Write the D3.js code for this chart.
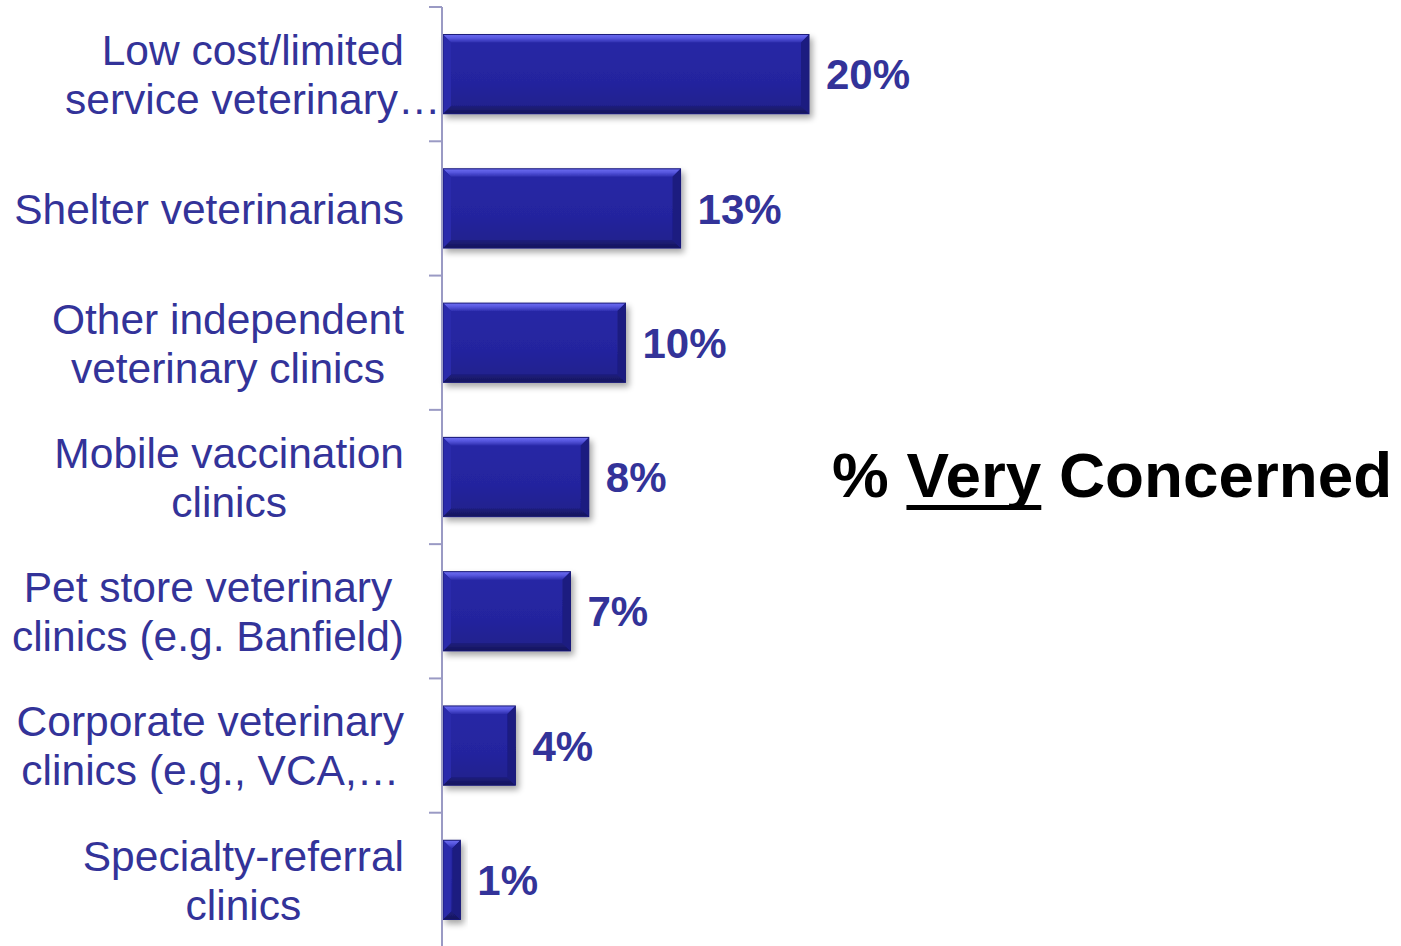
<!DOCTYPE html>
<html>
<head>
<meta charset="utf-8">
<script src="https://cdn.jsdelivr.net/npm/d3@7/dist/d3.min.js"></script>
<style>
  html, body { margin: 0; padding: 0; background: #ffffff; }
  svg { display: block; }
</style>
</head>
<body>
<svg id="chart" width="1401" height="946"></svg>
<script>
// Care providers and the share of respondents "very concerned" about each
const categories = [
  "Low cost/limited|service veterinary…",
  "Shelter veterinarians",
  "Other independent|veterinary clinics",
  "Mobile vaccination|clinics",
  "Pet store veterinary|clinics (e.g. Banfield)",
  "Corporate veterinary|clinics (e.g., VCA,…",
  "Specialty-referral|clinics"
];
const values = [20, 13, 10, 8, 7, 4, 1];
const valueLabels = ["20%", "13%", "10%", "8%", "7%", "4%", "1%"];
const titleParts = ["% ", "Very", " Concerned"];

const svg = d3.select("#chart");
const FONT = "'Liberation Sans', Arial, Helvetica, sans-serif";
const TEXT_BLUE = "#333399";

const axisX = 442;
const x = d3.scaleLinear().domain([0, 20]).range([axisX, 809]);
const y = d3.scaleBand().domain(categories).range([7, 947]).paddingInner(0.41).paddingOuter(0.205);
const yTicks = d3.scaleBand().domain(categories).range([7, 947]);

// Gradients and shadow for the bevelled bars
const defs = svg.append("defs");
const topGrad = defs.append("linearGradient").attr("id", "bevelTop").attr("x1", 0).attr("y1", 0).attr("x2", 0).attr("y2", 1);
topGrad.append("stop").attr("offset", "0%").attr("stop-color", "#6e6ef2");
topGrad.append("stop").attr("offset", "45%").attr("stop-color", "#5656de");
topGrad.append("stop").attr("offset", "100%").attr("stop-color", "#2e2eae");
const faceGrad = defs.append("linearGradient").attr("id", "face").attr("x1", 0).attr("y1", 0).attr("x2", 0).attr("y2", 1);
faceGrad.append("stop").attr("offset", "0%").attr("stop-color", "#2828a6");
faceGrad.append("stop").attr("offset", "60%").attr("stop-color", "#24249e");
faceGrad.append("stop").attr("offset", "100%").attr("stop-color", "#1f1f8a");
const botGrad = defs.append("linearGradient").attr("id", "bevelBot").attr("x1", 0).attr("y1", 0).attr("x2", 0).attr("y2", 1);
botGrad.append("stop").attr("offset", "0%").attr("stop-color", "#1e1e7e");
botGrad.append("stop").attr("offset", "100%").attr("stop-color", "#15155a");
const shadow = defs.append("filter").attr("id", "shadow").attr("x", "-20%").attr("y", "-20%").attr("width", "160%").attr("height", "160%");
shadow.append("feGaussianBlur").attr("in", "SourceAlpha").attr("stdDeviation", 3).attr("result", "blur");
shadow.append("feOffset").attr("in", "blur").attr("dx", 3).attr("dy", 4).attr("result", "off");
shadow.append("feComponentTransfer").attr("in", "off").attr("result", "soft")
  .append("feFuncA").attr("type", "linear").attr("slope", 0.35);
const merge = shadow.append("feMerge");
merge.append("feMergeNode").attr("in", "soft");
merge.append("feMergeNode").attr("in", "SourceGraphic");

// Bars
const bars = svg.append("g").selectAll("g.bar")
  .data(categories.map((c, i) => ({ c, v: values[i] })))
  .join("g").attr("class", "bar").attr("filter", "url(#shadow)");

bars.each(function (d) {
  const g = d3.select(this);
  const x0 = x(0) + 1, x1 = x(d.v);
  const y0 = y(d.c), y1 = y0 + y.bandwidth();
  const b = Math.min(8, (x1 - x0) / 2);
  g.append("rect").attr("x", x0).attr("y", y0).attr("width", x1 - x0).attr("height", y1 - y0)
    .attr("fill", "url(#face)");
  // top bevel
  g.append("polygon").attr("points", [[x0, y0], [x1, y0], [x1 - b, y0 + b], [x0 + b, y0 + b]].join(" "))
    .attr("fill", "url(#bevelTop)");
  // bottom bevel
  g.append("polygon").attr("points", [[x0, y1], [x1, y1], [x1 - b, y1 - b], [x0 + b, y1 - b]].join(" "))
    .attr("fill", "url(#bevelBot)");
  // left bevel
  g.append("polygon").attr("points", [[x0, y0], [x0 + b, y0 + b], [x0 + b, y1 - b], [x0, y1]].join(" "))
    .attr("fill", "#2b2bab");
  // right bevel
  g.append("polygon").attr("points", [[x1, y0], [x1 - b, y0 + b], [x1 - b, y1 - b], [x1, y1]].join(" "))
    .attr("fill", "#1c1c80");
  g.append("rect").attr("x", x0).attr("y", y0).attr("width", x1 - x0).attr("height", y1 - y0)
    .attr("fill", "none").attr("stroke", "#1a1a78").attr("stroke-width", 1);
});

// Category axis with ticks at band boundaries
const axisG = svg.append("g");
axisG.append("line").attr("x1", axisX).attr("x2", axisX).attr("y1", 7).attr("y2", 946)
  .attr("stroke", "#9a9ac4").attr("stroke-width", 2);
const boundaries = categories.map(c => yTicks(c)).concat([yTicks(categories[categories.length - 1]) + yTicks.bandwidth()]);
axisG.selectAll("line.tick").data(boundaries).join("line").attr("class", "tick")
  .attr("x1", 429).attr("x2", axisX).attr("y1", d => d).attr("y2", d => d)
  .attr("stroke", "#9a9ac4").attr("stroke-width", 2);

// Category labels: centred lines, block right-aligned against the axis.
// Truncated lines (ending in "…") may overhang the block edge.
const labelSize = 42.5, lineH = 49, labelRight = 404;
categories.forEach(c => {
  const lines = c.split("|");
  const cy = yTicks(c) + yTicks.bandwidth() / 2;
  const t = svg.append("text").attr("font-family", FONT).attr("font-size", labelSize)
    .attr("fill", TEXT_BLUE).attr("text-anchor", "middle");
  lines.forEach((ln, k) => {
    t.append("tspan").attr("x", 0)
      .attr("y", cy + (k - (lines.length - 1) / 2) * lineH + labelSize * 0.36)
      .text(ln);
  });
  let maxW = 0;
  t.selectAll("tspan").each(function () {
    if (!this.textContent.endsWith("…")) maxW = Math.max(maxW, this.getComputedTextLength());
  });
  if (maxW === 0) t.selectAll("tspan").each(function () { maxW = Math.max(maxW, this.getComputedTextLength()); });
  t.selectAll("tspan").attr("x", labelRight - maxW / 2);
});

// Value labels
svg.append("g").selectAll("text").data(categories).join("text")
  .attr("x", (c, i) => x(values[i]) + 17)
  .attr("y", c => y(c) + y.bandwidth() / 2 + 42 * 0.36)
  .attr("font-family", FONT).attr("font-size", 42).attr("font-weight", "bold")
  .attr("fill", TEXT_BLUE)
  .text((c, i) => valueLabels[i]);

// Title with underlined "Very"
const title = svg.append("text").attr("x", 832).attr("y", 497)
  .attr("font-family", FONT).attr("font-size", 63.8).attr("font-weight", "bold").attr("fill", "#000");
titleParts.forEach(p => title.append("tspan").text(p));
const n0 = titleParts[0].length;
const ux0 = title.node().getStartPositionOfChar(n0).x;
const ux1 = title.node().getEndPositionOfChar(n0 + titleParts[1].length - 1).x;
svg.append("rect").attr("x", ux0).attr("y", 505).attr("width", ux1 - ux0).attr("height", 5).attr("fill", "#000");
</script>
</body>
</html>
